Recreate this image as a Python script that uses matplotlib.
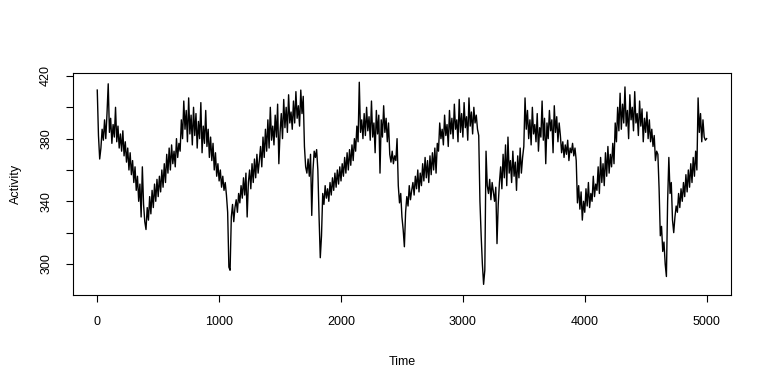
import numpy as np
import matplotlib
matplotlib.use("Agg")
import matplotlib.pyplot as plt

plt.rcParams['font.family'] = ['Liberation Sans', 'DejaVu Sans']

# Activity values, one value every 10 time units (0..5000)
activity = [
    411, 382, 367, 374, 386, 379, 392, 380, 396, 415,
    384, 393, 377, 389, 381, 400, 378, 388, 374, 383,
    372, 385, 369, 378, 365, 374, 360, 371, 357, 366,
    352, 362, 347, 356, 340, 351, 330, 362, 338, 327,
    322, 336, 328, 343, 332, 347, 336, 351, 340, 354,
    343, 356, 346, 360, 349, 364, 352, 370, 358, 374,
    360, 376, 364, 372, 362, 380, 368, 377, 372, 392,
    380, 404, 386, 398, 378, 406, 383, 395, 376, 400,
    382, 396, 374, 391, 380, 403, 371, 388, 377, 398,
    375, 386, 368, 381, 366, 377, 360, 371, 356, 364,
    353, 360, 349, 356, 347, 352, 344, 333, 298, 296,
    330, 338, 327, 336, 341, 333, 345, 339, 350, 342,
    355, 344, 358, 330, 352, 360, 348, 364, 352, 367,
    355, 370, 358, 366, 375, 362, 381, 368, 386, 372,
    392, 374, 400, 379, 388, 376, 395, 381, 402, 364,
    384, 396, 380, 405, 387, 400, 384, 408, 390, 397,
    386, 404, 390, 410, 393, 401, 388, 411, 396, 407,
    375, 362, 358, 367, 356, 370, 331, 360, 372, 368,
    373, 360, 330, 304, 318, 345, 338, 350, 342, 348,
    340, 352, 344, 355, 347, 358, 349, 360, 351, 362,
    353, 364, 356, 368, 358, 371, 360, 373, 363, 376,
    366, 380, 372, 388, 378, 416, 384, 392, 380, 396,
    382, 400, 385, 394, 379, 404, 381, 390, 371, 398,
    383, 395, 358, 392, 381, 401, 384, 393, 378, 390,
    370, 365, 372, 364, 369, 366, 380, 350, 339, 345,
    330, 322, 311, 333, 343, 337, 350, 341, 347, 352,
    344, 356, 348, 360, 346, 358, 350, 364, 353, 368,
    355, 366, 352, 369, 357, 371, 360, 374, 358, 377,
    372, 390, 380, 386, 376, 395, 382, 389, 375, 398,
    383, 393, 380, 402, 386, 392, 378, 405, 384, 396,
    381, 403, 387, 394, 379, 406, 388, 397, 383, 400,
    390, 395, 386, 382, 340, 318, 300, 287, 296, 372,
    350, 345, 354, 341, 352, 346, 340, 349, 313, 338,
    352, 362, 348, 370, 355, 376, 350, 381, 358, 366,
    352, 372, 356, 365, 347, 369, 355, 374, 358, 368,
    375, 406, 386, 398, 380, 392, 376, 400, 383, 389,
    378, 396, 372, 387, 381, 404, 379, 393, 364, 390,
    380, 398, 385, 392, 371, 401, 384, 394, 378, 390,
    382, 371, 378, 368, 376, 370, 379, 366, 374, 371,
    377, 369, 374, 366, 339, 350, 335, 346, 328, 340,
    333, 348, 337, 352, 336, 345, 340, 356, 343, 351,
    347, 362, 345, 368, 352, 364, 350, 371, 356, 375,
    358, 370, 362, 377, 364, 390, 378, 400, 385, 409,
    386, 402, 390, 413, 388, 398, 380, 408, 392, 400,
    385, 410, 390, 396, 382, 404, 388, 399, 378, 393,
    384, 397, 380, 392, 378, 386, 375, 382, 366, 372,
    370, 348, 318, 324, 308, 314, 300, 292, 340, 368,
    345, 352, 328, 320, 330, 337, 333, 345, 336, 348,
    340, 352, 343, 357, 346, 360, 349, 364, 352, 368,
    356, 372, 360, 406, 384, 396, 378, 392, 381, 379,
    380,
]
time_step = 10
x_ticks = [0, 1000, 2000, 3000, 4000, 5000]
y_ticks = [300, 320, 340, 360, 380, 400, 420]
y_tick_labels = ['300', '', '340', '', '380', '', '420']

time = np.arange(len(activity)) * time_step

fig = plt.figure(figsize=(7.68, 3.84), dpi=100)
ax = fig.add_axes([73/768, 1 - 295/384, (731-73)/768, (295-73)/384])
ax.plot(time, activity, color='black', linewidth=1.0)

ax.set_xlim(-199, 5200)
ax.set_ylim(280.2, 421.9)
ax.set_xticks(x_ticks)
ax.set_xticklabels([str(t) for t in x_ticks])
ax.set_yticks(y_ticks)
ax.set_yticklabels(y_tick_labels, rotation=90, va='center')
ax.tick_params(axis='both', length=5, width=0.8, labelsize=9, pad=10, colors='black')
for s in ax.spines.values():
    s.set_linewidth(0.8)
ax.set_xlabel('Time', fontsize=9, labelpad=20)
ax.set_ylabel('Activity', fontsize=9, labelpad=13)

fig.savefig('out.png', dpi=100, facecolor='white')
